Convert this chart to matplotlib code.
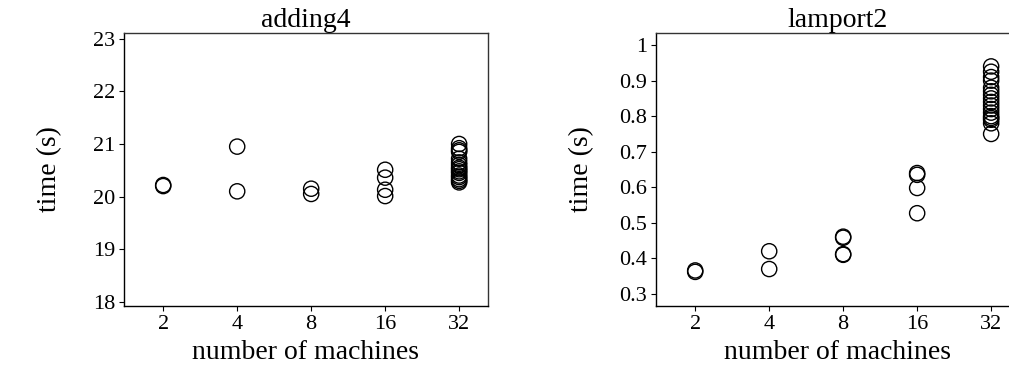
import matplotlib
matplotlib.use("Agg")
import matplotlib.pyplot as plt

plt.rcParams['font.family'] = ['Liberation Serif', 'DejaVu Serif']

machines = ["2", "4", "8", "16", "32"]

adding4_times = {
    "2": [20.20, 20.22],
    "4": [20.95, 20.10],
    "8": [20.15, 20.05],
    "16": [20.51, 20.36, 20.13, 20.01],
    "32": [21.00, 20.92, 20.88, 20.85, 20.72, 20.65, 20.60, 20.55,
           20.52, 20.48, 20.45, 20.40, 20.37, 20.33, 20.30, 20.27],
}

lamport2_times = {
    "2": [0.362, 0.366],
    "4": [0.420, 0.370],
    "8": [0.461, 0.458, 0.412, 0.410],
    "16": [0.640, 0.635, 0.598, 0.527],
    "32": [0.940, 0.925, 0.910, 0.900, 0.880, 0.870, 0.860, 0.850,
           0.840, 0.830, 0.820, 0.810, 0.800, 0.795, 0.790, 0.780, 0.750],
}

adding4_ticks = [18, 19, 20, 21, 22, 23]
lamport2_ticks = [0.3, 0.4, 0.5, 0.6, 0.7, 0.8, 0.9, 1.0]
lamport2_ticklabels = ["0.3", "0.4", "0.5", "0.6", "0.7", "0.8", "0.9", "1"]

W, H = 1009, 365
fig = plt.figure(figsize=(W / 100, H / 100), dpi=100)

ax_w, ax_h = 364 / W, 273 / H
ax_b = (H - 306) / H
ax1 = fig.add_axes([124 / W, ax_b, ax_w, ax_h])
ax2 = fig.add_axes([656 / W, ax_b, ax_w, ax_h])


def draw(ax, data, title, yticks, yticklabels, ylim):
    for i, m in enumerate(machines):
        vals = data[m]
        ax.scatter([i] * len(vals), vals, s=120, facecolors="none",
                   edgecolors="black", linewidths=1.0, zorder=3)
    ax.set_xticks(range(len(machines)))
    ax.set_xticklabels(machines)
    ax.set_xlim(-0.53, 4.39)
    ax.set_yticks(yticks)
    ax.set_yticklabels(yticklabels)
    ax.set_ylim(*ylim)
    ax.tick_params(labelsize=16, length=3.5, width=0.8, pad=3)
    ax.set_title(title, fontsize=20, pad=3)
    ax.set_xlabel("number of machines", fontsize=20)
    ax.set_ylabel("time (s)", fontsize=20)
    ax.yaxis.set_label_coords(-0.17, 0.5)
    ax.xaxis.set_label_coords(0.5, -0.125)
    for sp in ax.spines.values():
        sp.set_linewidth(1.0)
        sp.set_color("#333333")
    ax.spines["left"].set_color("black")
    ax.spines["bottom"].set_color("black")


draw(ax1, adding4_times, "adding4", adding4_ticks,
     [str(t) for t in adding4_ticks], (17.92, 23.11))
draw(ax2, lamport2_times, "lamport2", lamport2_ticks,
     lamport2_ticklabels, (0.266, 1.034))

fig.savefig("out.png", dpi=100)
